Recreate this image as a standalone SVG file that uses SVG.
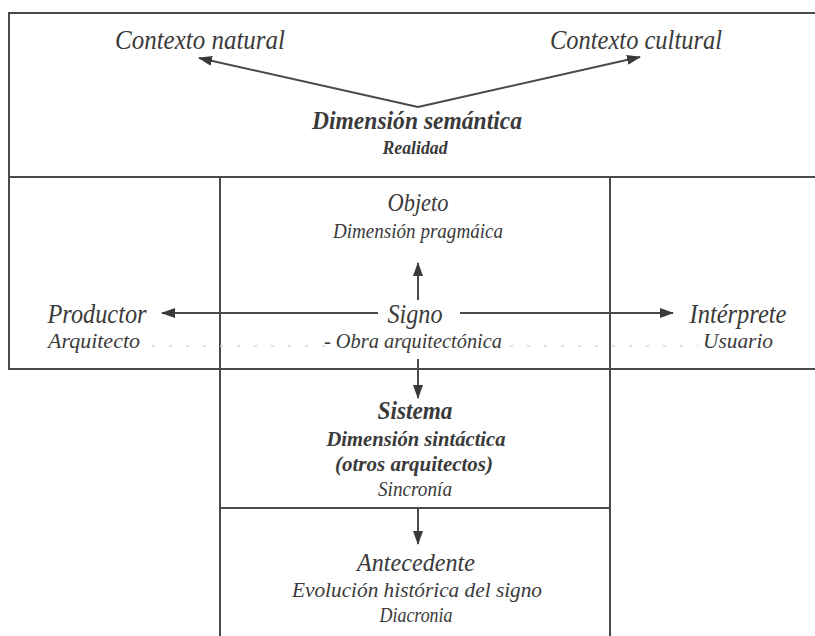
<svg xmlns="http://www.w3.org/2000/svg" width="815" height="636" viewBox="0 0 815 636">
<style>
  text { font-family: "Liberation Serif", "Times New Roman", serif; font-style: italic; fill: #3a3a3a; text-anchor: middle; }
  .b { font-weight: bold; }
  .frame { fill: none; stroke: #4a4a4a; stroke-width: 2; }
  .conn { fill: none; stroke: #4a4a4a; stroke-width: 2; }
  .dots { fill: none; stroke: #d6d6d6; stroke-width: 1.5; stroke-dasharray: 3 14; }
</style>
<defs>
  <marker id="ah" viewBox="0 0 14 10" refX="13" refY="5" markerWidth="14" markerHeight="10" markerUnits="userSpaceOnUse" orient="auto">
    <path d="M0,0 L14,5 L0,10 Z" fill="#3a3a3a"/>
  </marker>
</defs>
<rect width="815" height="636" fill="#ffffff"/>
<g id="frames">
  <path class="frame" d="M816 13 H9 V369 H816"/>
  <path class="frame" d="M9 177 H816"/>
  <path class="frame" d="M220 177 V637"/>
  <path class="frame" d="M610 177 V637"/>
  <path class="frame" d="M220 508 H610"/>
</g>
<g id="connectors">
  <path class="conn" d="M418 107 L199 58" marker-end="url(#ah)"/>
  <path class="conn" d="M418 107 L640 57" marker-end="url(#ah)"/>
  <path class="conn" d="M418 300 L418 263" marker-end="url(#ah)"/>
  <path class="conn" d="M378 313 L162 313" marker-end="url(#ah)"/>
  <path class="conn" d="M460 313 L673 313" marker-end="url(#ah)"/>
  <path class="conn" d="M418 359 L418 398" marker-end="url(#ah)"/>
  <path class="conn" d="M418 508 L418 544" marker-end="url(#ah)"/>
  <path class="dots" d="M152 346 H325"/>
  <path class="dots" d="M510 346 H698"/>
</g>
<g id="contexto-natural"><text x="200" y="49" font-size="27" textLength="170" lengthAdjust="spacingAndGlyphs">Contexto natural</text></g>
<g id="contexto-cultural"><text x="636" y="49" font-size="27" textLength="172" lengthAdjust="spacingAndGlyphs">Contexto cultural</text></g>
<g id="dimension-semantica">
  <text class="b" x="417" y="129" font-size="26" textLength="210" lengthAdjust="spacingAndGlyphs">Dimensión semántica</text>
  <text class="b" x="415" y="154" font-size="19" textLength="65" lengthAdjust="spacingAndGlyphs">Realidad</text>
</g>
<g id="objeto">
  <text x="418" y="211" font-size="25" textLength="61" lengthAdjust="spacingAndGlyphs">Objeto</text>
  <text x="418" y="238" font-size="21" textLength="170" lengthAdjust="spacingAndGlyphs">Dimensión pragmáica</text>
</g>
<g id="productor">
  <text x="97" y="323" font-size="27" textLength="99" lengthAdjust="spacingAndGlyphs">Productor</text>
  <text x="94" y="348" font-size="22" textLength="92" lengthAdjust="spacingAndGlyphs">Arquitecto</text>
</g>
<g id="signo">
  <text x="415" y="323" font-size="27" textLength="55" lengthAdjust="spacingAndGlyphs">Signo</text>
  <text x="413" y="348" font-size="22" textLength="178" lengthAdjust="spacingAndGlyphs">- Obra arquitectónica</text>
</g>
<g id="interprete">
  <text x="738" y="323" font-size="27" textLength="97" lengthAdjust="spacingAndGlyphs">Intérprete</text>
  <text x="738" y="348" font-size="22" textLength="70" lengthAdjust="spacingAndGlyphs">Usuario</text>
</g>
<g id="sistema">
  <text class="b" x="415" y="419" font-size="26" textLength="75" lengthAdjust="spacingAndGlyphs">Sistema</text>
  <text class="b" x="416" y="446" font-size="21" textLength="179" lengthAdjust="spacingAndGlyphs">Dimensión sintáctica</text>
  <text class="b" x="414" y="471" font-size="21" textLength="158" lengthAdjust="spacingAndGlyphs">(otros arquitectos)</text>
  <text x="415" y="496" font-size="20" textLength="74" lengthAdjust="spacingAndGlyphs">Sincronía</text>
</g>
<g id="antecedente">
  <text x="416" y="571" font-size="26" textLength="118" lengthAdjust="spacingAndGlyphs">Antecedente</text>
  <text x="417" y="597" font-size="21" textLength="250" lengthAdjust="spacingAndGlyphs">Evolución histórica del signo</text>
  <text x="416" y="622" font-size="20" textLength="73" lengthAdjust="spacingAndGlyphs">Diacronia</text>
</g>
</svg>
